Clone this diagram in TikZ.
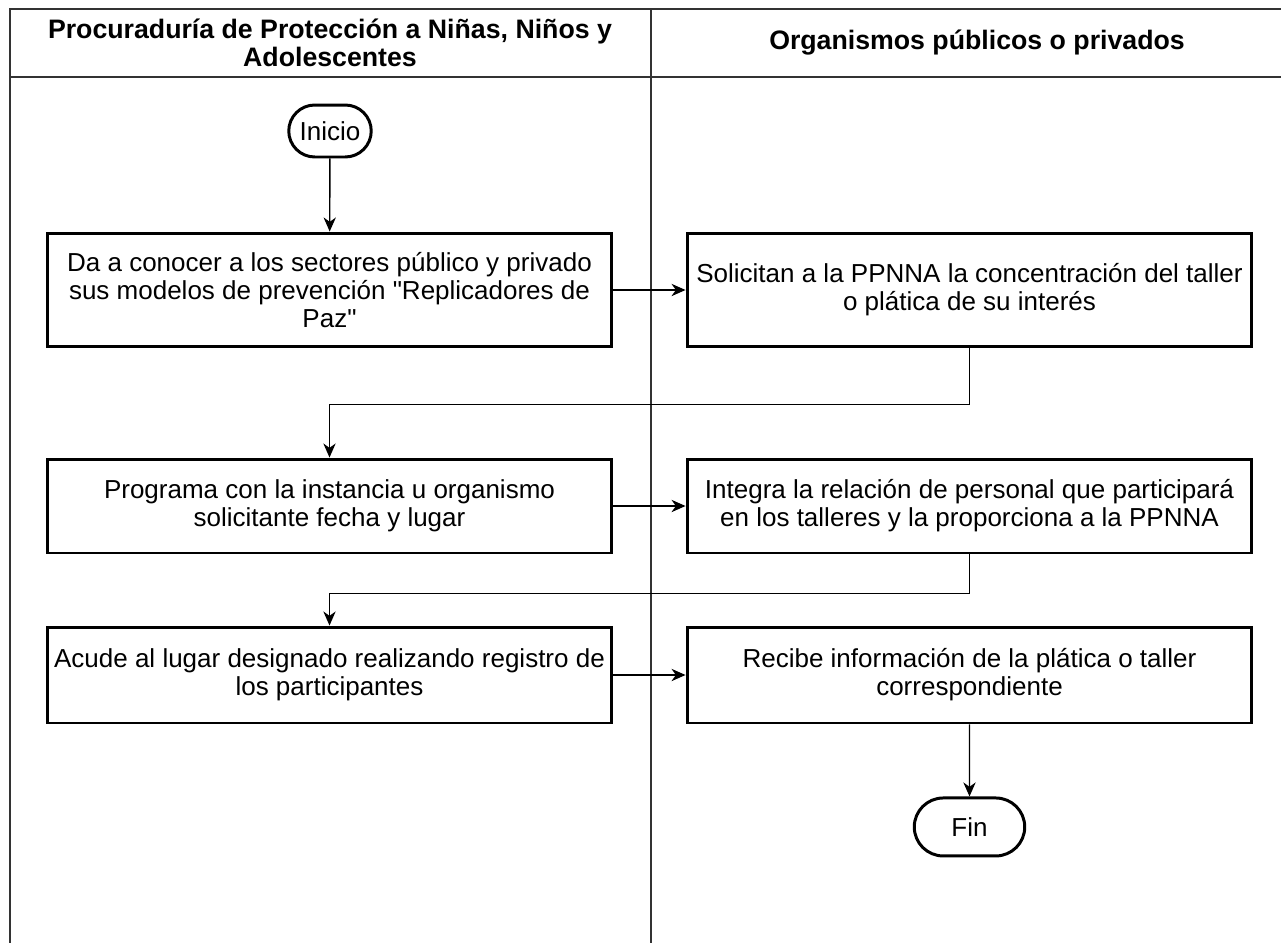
\documentclass[tikz,border=0pt]{standalone}
\usepackage{fontspec}
\setmainfont{Liberation Sans}[Ligatures=TeXOff]
\usepackage{xcolor}
\usepackage{tikz}
\usetikzlibrary{shapes.misc,arrows.meta,positioning,calc}
\definecolor{laneGray}{HTML}{333333}

\begin{document}
\begin{tikzpicture}[
    x=0.02cm, y=-0.02cm,
    font=\fontsize{14.8}{16}\selectfont,
    stepNode/.style={rectangle, draw=black, line width=1.7pt, minimum width=11.3cm, align=center, inner sep=1pt},
    termNode/.style={rounded rectangle, draw=black, line width=1.7pt, inner sep=1pt},
    headNode/.style={align=center, font=\fontsize{15.2}{15.8}\selectfont\bfseries},
    arrow/.style={-{Stealth[length=8pt, width=7pt, inset=2.5pt]}, line width=0.8pt, black},
    lane/.style={line width=0.9pt, draw=laneGray}
]

\useasboundingbox (0,0) rectangle (1281,943);

\draw[lane] (10,943) -- (10,9) -- (1281,9);
\draw[lane] (10,77) -- (1281,77);
\draw[lane] (651,9) -- (651,943);

\node[headNode] (hProc) at (330,43) {Procuraduría de Protección a Niñas, Niños y\\Adolescentes};
\node[headNode] (hOrg) at (977,43) {Organismos públicos o privados};

\node[termNode, minimum width=1.72cm, minimum height=1.04cm] (inicio) at (330,131) {Inicio};

\node[stepNode, minimum height=2.28cm] (s1) at (329.5,290) {Da a conocer a los sectores público y privado\\sus modelos de prevención "Replicadores de\\Paz"};
\node[stepNode, minimum height=2.28cm] (s2) at (969.5,290) {Solicitan a la PPNNA la concentración del taller\\o plática de su interés};
\node[stepNode, minimum height=1.88cm] (s3) at (329.5,506) {Programa con la instancia u organismo\\solicitante fecha y lugar};
\node[stepNode, minimum height=1.88cm] (s4) at (969.5,506) {Integra la relación de personal que participará\\en los talleres y la proporciona a la PPNNA};
\node[stepNode, minimum height=1.92cm] (s5) at (329.5,675) {Acude al lugar designado realizando registro de\\los participantes};
\node[stepNode, minimum height=1.92cm] (s6) at (969.5,675) {Recibe información de la plática o taller\\correspondiente};

\node[termNode, minimum width=2.28cm, minimum height=1.16cm, below=1.44cm of s6] (fin) {Fin};

\draw[arrow] (inicio) -- (s1);
\draw[arrow] (s1) -- (s2);
\draw[arrow] (s2.south) -- ++(0,56) -| (s3.north);
\draw[arrow] (s3) -- (s4);
\draw[arrow] (s4.south) -- ++(0,39) -| (s5.north);
\draw[arrow] (s5) -- (s6);
\draw[arrow] (s6) -- (fin);

\end{tikzpicture}
\end{document}
